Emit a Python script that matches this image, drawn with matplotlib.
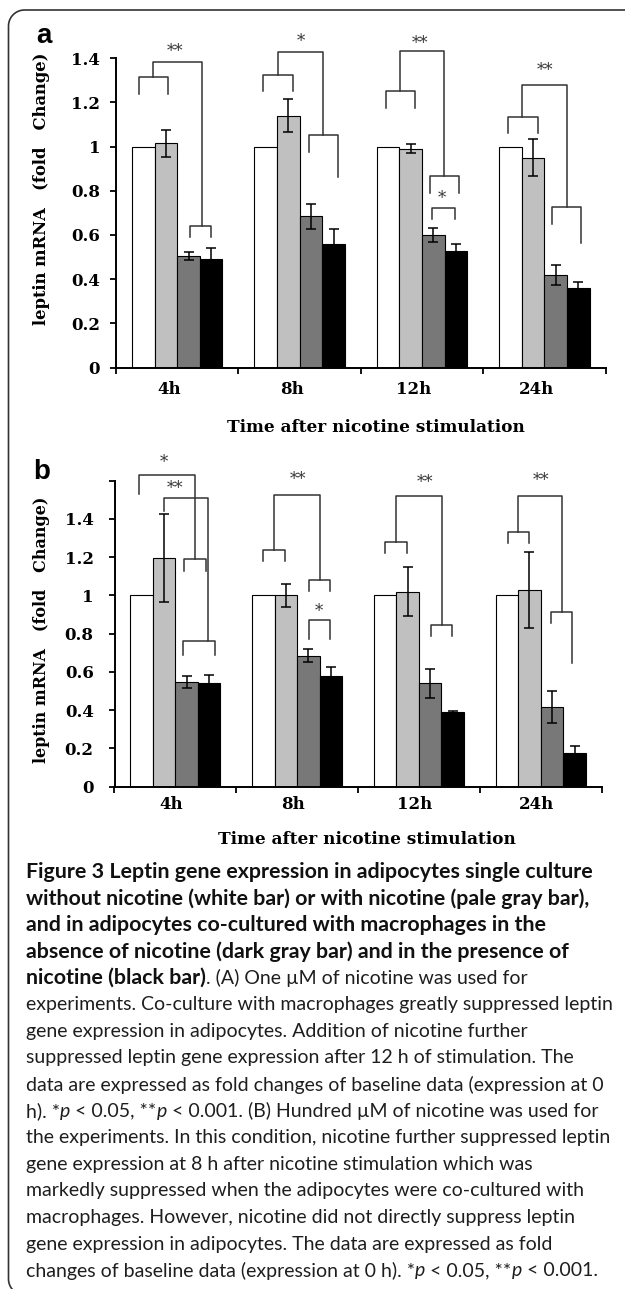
import numpy as np
import matplotlib
matplotlib.use('Agg')
import matplotlib.pyplot as plt
from matplotlib.path import Path
from matplotlib.patches import PathPatch
from matplotlib.transforms import IdentityTransform

# 数据
groups = ['4h', '8h', '12h', '24h']

# (A) 1 µM nicotine
a_ctrl = [1.0, 1.0, 1.0, 1.0]
a_nic = [1.015, 1.14, 0.99, 0.95]
a_cocult = [0.505, 0.685, 0.60, 0.42]
a_cocult_nic = [0.49, 0.557, 0.527, 0.358]
a_nic_err = [0.06, 0.075, 0.02, 0.085]
a_cocult_err = [0.02, 0.057, 0.032, 0.045]
a_cocult_nic_err = [0.05, 0.068, 0.03, 0.03]

# (B) 100 µM nicotine
b_ctrl = [1.0, 1.0, 1.0, 1.0]
b_nic = [1.195, 1.0, 1.02, 1.028]
b_cocult = [0.547, 0.686, 0.54, 0.416]
b_cocult_nic = [0.54, 0.577, 0.39, 0.178]
b_nic_err = [0.23, 0.06, 0.13, 0.2]
b_cocult_err = [0.03, 0.035, 0.077, 0.082]
b_cocult_nic_err = [0.045, 0.05, 0.005, 0.037]

# 显著性括号: (group, slot_left, slot_right, top, left_bottom, right_bottom)
a_brackets = [
    (0, -0.2, 1.1, 1.317, 1.239, 1.239),
    (0, 2.05, 3.0, 0.642, 0.592, 0.592),
    (0, 0.45, 2.6, 1.385, 1.317, 0.642),
    (1, -0.1, 1.2, 1.323, 1.254, 1.254),
    (1, 1.9, 3.2, 1.054, 0.977, 0.861),
    (1, 0.55, 2.55, 1.43, 1.323, 1.054),
    (2, -0.1, 1.2, 1.252, 1.177, 1.177),
    (2, 1.85, 3.15, 0.869, 0.79, 0.79),
    (2, 0.55, 2.45, 1.434, 1.252, 0.869),
    (2, 1.93, 2.94, 0.724, 0.672, 0.672),
    (3, -0.1, 1.2, 1.136, 1.06, 1.06),
    (3, 1.85, 3.13, 0.725, 0.65, 0.565),
    (3, 0.5, 2.5, 1.279, 1.136, 0.725),
]
a_stars = [(0, 1.4, 1.43, '**'), (1, 1.55, 1.476, '*'), (2, 1.42, 1.468, '**'),
           (2, 2.4, 0.766, '*'), (3, 1.53, 1.347, '**')]

b_brackets = [
    (0, 1.9, 2.85, 1.189, 1.128, 1.128),
    (0, 1.85, 3.25, 0.76, 0.69, 0.69),
    (0, -0.1, 2.38, 1.63, 1.53, 1.189),
    (0, 1.0, 2.96, 1.51, 1.443, 0.76),
    (1, 0.0, 0.97, 1.238, 1.18, 1.18),
    (1, 2.03, 2.96, 1.081, 1.023, 1.023),
    (1, 0.46, 2.51, 1.527, 1.238, 1.081),
    (1, 2.03, 2.96, 0.871, 0.77, 0.77),
    (2, 0.01, 0.98, 1.282, 1.221, 1.221),
    (2, 2.02, 2.96, 0.848, 0.79, 0.79),
    (2, 0.49, 2.52, 1.522, 1.282, 0.848),
    (3, 0.04, 0.99, 1.333, 1.272, 1.272),
    (3, 1.95, 2.9, 0.913, 0.854, 0.647),
    (3, 0.49, 2.46, 1.518, 1.333, 0.913),
]
b_stars = [(0, 1.0, 1.697, '*'), (0, 1.48, 1.557, '**'), (1, 1.54, 1.606, '**'),
           (1, 2.47, 0.918, '*'), (2, 1.78, 1.592, '**'), (3, 1.53, 1.6, '**')]

a_yticks = [0, 0.2, 0.4, 0.6, 0.8, 1, 1.2, 1.4]
b_yticks = [0, 0.2, 0.4, 0.6, 0.8, 1, 1.2, 1.4, 1.6]

caption_lines = [
    [("Figure 3 Leptin gene expression in adipocytes single culture", 'b')],
    [("without nicotine (white bar) or with nicotine (pale gray bar),", 'b')],
    [("and in adipocytes co-cultured with macrophages in the", 'b')],
    [("absence of nicotine (dark gray bar) and in the presence of", 'b')],
    [("nicotine (black bar)", 'b'), (". (A) One \u00b5M of nicotine was used for", 'r')],
    [("experiments. Co-culture with macrophages greatly suppressed leptin", 'r')],
    [("gene expression in adipocytes. Addition of nicotine further", 'r')],
    [("suppressed leptin gene expression after 12 h of stimulation. The", 'r')],
    [("data are expressed as fold changes of baseline data (expression at 0", 'r')],
    [("h). *", 'r'), ("p", 'i'), (" < 0.05, **", 'r'), ("p", 'i'),
     (" < 0.001. (B) Hundred \u00b5M of nicotine was used for", 'r')],
    [("the experiments. In this condition, nicotine further suppressed leptin", 'r')],
    [("gene expression at 8 h after nicotine stimulation which was", 'r')],
    [("markedly suppressed when the adipocytes were co-cultured with", 'r')],
    [("macrophages. However, nicotine did not directly suppress leptin", 'r')],
    [("gene expression in adipocytes. The data are expressed as fold", 'r')],
    [("changes of baseline data (expression at 0 h). *", 'r'), ("p", 'i'),
     (" < 0.05, **", 'r'), ("p", 'i'), (" < 0.001.", 'r')],
]

W, H = 625, 1289
bar_w = 0.185
bar_colors = ['white', '#c0c0c0', '#787878', 'black']
serif = 'DejaVu Serif'
cap_font = ['Lato', 'DejaVu Sans']


def fx(x):
    return x / W


def fy(y):
    return 1 - y / H


def slot_x(g, s):
    return g + (s - 1.5) * bar_w


def draw_panel(ax, vals, errs, brackets, stars, yticks, ytop, ypad, xpad, xshift):
    x = np.arange(len(groups))
    for i, (v, c) in enumerate(zip(vals, bar_colors)):
        xi = x + (i - 1.5) * bar_w
        ax.bar(xi, v, bar_w, color=c, edgecolor='black', linewidth=0.8, zorder=2)
        if errs[i] is not None:
            ax.errorbar(xi, v, yerr=errs[i], fmt='none', ecolor='black',
                        elinewidth=1.1, capsize=3.5, capthick=1.1, zorder=3)
    for g, sl, sr, top, lb, rb in brackets:
        xl, xr = slot_x(g, sl), slot_x(g, sr)
        ax.plot([xl, xl, xr, xr], [lb, top, top, rb], color='#333333',
                linewidth=1.1, clip_on=False, zorder=4)
    for g, s, y, t in stars:
        ax.text(slot_x(g, s), y, t, ha='center', va='center', fontsize=12,
                color='#3a3a3a', family=serif, clip_on=False)

    ax.set_xlim(-0.5, 3.5)
    ax.set_ylim(0, ytop)
    ax.spines['top'].set_visible(False)
    ax.spines['right'].set_visible(False)
    ax.spines['left'].set_linewidth(1.4)
    ax.spines['bottom'].set_linewidth(1.4)
    ax.set_xticks([-0.5, 0.5, 1.5, 2.5, 3.5])
    ax.set_xticklabels([])
    ax.set_xticks(x + xshift, minor=True)
    ax.set_xticklabels(groups, minor=True, fontsize=12, fontweight='bold', family=serif)
    ax.tick_params(axis='x', which='major', direction='out', length=4, width=1.3)
    ax.tick_params(axis='x', which='minor', length=0, pad=xpad)
    ax.set_yticks(yticks)
    labels = ['%g' % t if t <= 1.4 else '' for t in yticks]
    ax.set_yticklabels(labels, fontsize=12, fontweight='bold', family=serif)
    ax.tick_params(axis='y', direction='out', length=4, width=1.3, pad=ypad)


fig = plt.figure(figsize=(W / 100, H / 100), dpi=100)

ax_a = fig.add_axes([fx(116), fy(367.5), fx(605.6 - 116), (367.5 - 58.3) / H])
draw_panel(ax_a, [a_ctrl, a_nic, a_cocult, a_cocult_nic],
           [None, a_nic_err, a_cocult_err, a_cocult_nic_err],
           a_brackets, a_stars, a_yticks, 1.4, 7.5, 9.5, -0.065)

ax_b = fig.add_axes([fx(114.5), fy(786.7), fx(601.6 - 114.5), (786.7 - 480.7) / H])
draw_panel(ax_b, [b_ctrl, b_nic, b_cocult, b_cocult_nic],
           [None, b_nic_err, b_cocult_err, b_cocult_nic_err],
           b_brackets, b_stars, b_yticks, 1.6, 11, 6.5, -0.035)

ylab = "leptin mRNA   (fold   Change)"
fig.text(fx(42), fy(189), ylab, rotation=90, ha='center', va='center',
         fontsize=11.8, fontweight='bold', family=serif)
fig.text(fx(42), fy(630), ylab, rotation=90, ha='center', va='center',
         fontsize=11.5, fontweight='bold', family=serif)
xlab = "Time after nicotine stimulation"
fig.text(fx(375.5), fy(427), xlab, ha='center', va='center',
         fontsize=12.2, fontweight='bold', family=serif)
fig.text(fx(366.5), fy(840), xlab, ha='center', va='center',
         fontsize=12.2, fontweight='bold', family=serif)

fig.text(fx(44), fy(36), 'a', ha='center', va='center', fontsize=20,
         fontweight='bold', family='Liberation Sans')
fig.text(fx(42), fy(472), 'b', ha='center', va='center', fontsize=20,
         fontweight='bold', family='Liberation Sans')

# 外框: 只画左边和上边, 两个左角为圆角 (像素坐标, 原点在左下)
r = 16
left, top, bottom = 8.5, H - 10, -6
t = np.linspace(0, np.pi / 2, 20)
top_arc = np.column_stack([left + r - r * np.cos(t), top - r + r * np.sin(t)])
bot_arc = np.column_stack([left + r - r * np.cos(t), bottom + r - r * np.sin(t)])
verts = np.vstack([[[W + 50, top]], top_arc[::-1], bot_arc, [[W + 50, bottom]]])
fig.add_artist(PathPatch(Path(verts), transform=IdentityTransform(), facecolor='none',
                         edgecolor='#333333', linewidth=1.2))

# 图注
renderer = fig.canvas.get_renderer()
styles = {'b': dict(fontweight='bold', color='#111111'),
          'r': dict(fontweight='normal', color='#1e1e1e'),
          'i': dict(fontweight='normal', style='italic', color='#1e1e1e')}


def text_width(s, size, **kw):
    t1 = fig.text(0, 0, '|' + s + '|', fontsize=size, family=cap_font, **kw)
    t2 = fig.text(0, 0, '||', fontsize=size, family=cap_font, **kw)
    w = t1.get_window_extent(renderer).width - t2.get_window_extent(renderer).width
    t1.remove()
    t2.remove()
    return w


reg_size = 10 * 579.7 / text_width(caption_lines[8][0][0], 10, **styles['r'])
bold_size = 10 * 563.6 / text_width(caption_lines[1][0][0], 10, **styles['b'])

y0, dy = 871.7, 26.6
for k, runs in enumerate(caption_lines):
    x = 26.0
    y = y0 + k * dy
    for s, st in runs:
        size = bold_size if st == 'b' else reg_size
        fig.text(fx(x), fy(y), s, fontsize=size, family=cap_font, va='center',
                 ha='left', **styles[st])
        x += text_width(s, size, **styles[st])

fig.savefig('out.png', dpi=100)
